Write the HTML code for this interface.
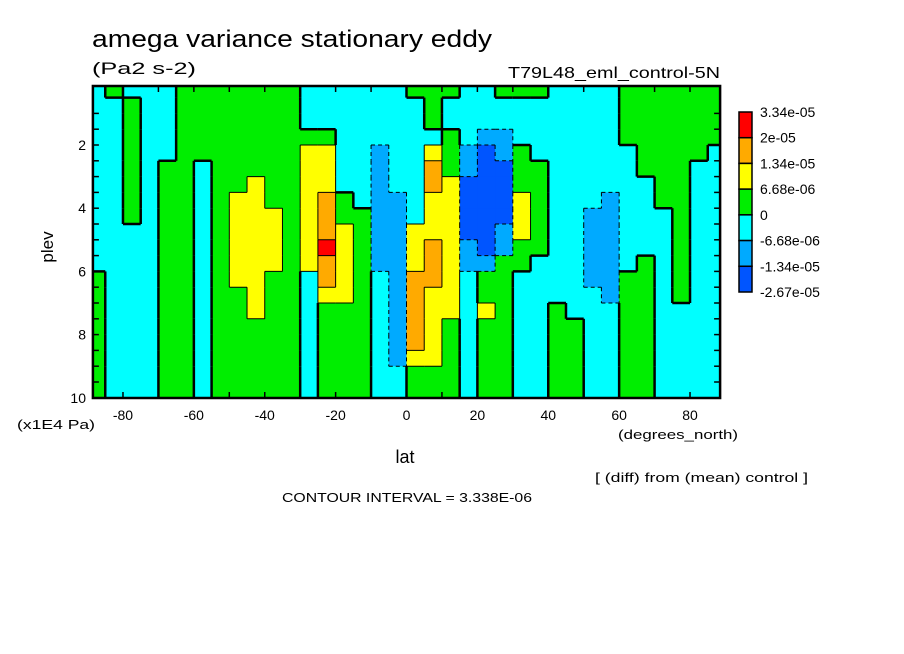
<!DOCTYPE html>
<html><head><meta charset="utf-8"><style>
html,body{margin:0;padding:0;background:#fff;}
svg{display:block;font-family:"Liberation Sans",sans-serif;}
</style></head><body>
<svg id="chart" width="904" height="654" viewBox="0 0 904 654" xmlns="http://www.w3.org/2000/svg">
<rect width="904" height="654" fill="#fff"/>
<g id="cells"></g>
<g id="contours"></g>
<g id="ticks"></g>
<rect x="92.9" y="86" width="627.2" height="312" fill="none" stroke="#000" stroke-width="2.5"/>
<g id="legend"></g>
<text x="92" y="47" font-size="24" textLength="400" lengthAdjust="spacingAndGlyphs">amega variance stationary eddy</text>
<text x="92" y="74" font-size="17" textLength="104" lengthAdjust="spacingAndGlyphs">(Pa2 s-2)</text>
<text x="508" y="78" font-size="16" textLength="212" lengthAdjust="spacingAndGlyphs">T79L48_eml_control-5N</text>
<text transform="translate(53,247) rotate(-90)" text-anchor="middle" font-size="17">plev</text>
<text x="17" y="429" font-size="13" textLength="78" lengthAdjust="spacingAndGlyphs">(x1E4 Pa)</text>
<text x="405" y="463" text-anchor="middle" font-size="18">lat</text>
<text x="618" y="439" font-size="13" textLength="120" lengthAdjust="spacingAndGlyphs">(degrees_north)</text>
<text x="595" y="482" font-size="13" textLength="213" lengthAdjust="spacingAndGlyphs">[ (diff) from (mean) control ]</text>
<text x="282" y="502" font-size="13" textLength="250" lengthAdjust="spacingAndGlyphs">CONTOUR INTERVAL = 3.338E-06</text>
</svg>
<script>
const lats = [-87.5,-82.5,-77.5,-72.5,-67.5,-62.5,-57.5,-52.5,-47.5,-42.5,-37.5,-32.5,-27.5,-22.5,-17.5,-12.5,-7.5,-2.5,2.5,7.5,12.5,17.5,22.5,27.5,32.5,37.5,42.5,47.5,52.5,57.5,62.5,67.5,72.5,77.5,82.5,87.5];
const plevCenters = [0.25,0.75,1.25,1.75,2.25,2.75,3.25,3.75,4.25,4.75,5.25,5.75,6.25,6.75,7.25,7.75,8.25,8.75,9.25,9.75];
// level bin index per column (-3 .. 3), top to bottom
const binColumns = [
[-1,-1,-1,-1,-1,-1,-1,-1,-1,-1,-1,-1,0,0,0,0,0,0,0,0],
[0,-1,-1,-1,-1,-1,-1,-1,-1,-1,-1,-1,-1,-1,-1,-1,-1,-1,-1,-1],
[-1,0,0,0,0,0,0,0,0,-1,-1,-1,-1,-1,-1,-1,-1,-1,-1,-1],
[-1,-1,-1,-1,-1,-1,-1,-1,-1,-1,-1,-1,-1,-1,-1,-1,-1,-1,-1,-1],
[-1,-1,-1,-1,-1,0,0,0,0,0,0,0,0,0,0,0,0,0,0,0],
[0,0,0,0,0,0,0,0,0,0,0,0,0,0,0,0,0,0,0,0],
[0,0,0,0,0,-1,-1,-1,-1,-1,-1,-1,-1,-1,-1,-1,-1,-1,-1,-1],
[0,0,0,0,0,0,0,0,0,0,0,0,0,0,0,0,0,0,0,0],
[0,0,0,0,0,0,0,1,1,1,1,1,1,0,0,0,0,0,0,0],
[0,0,0,0,0,0,1,1,1,1,1,1,1,1,1,0,0,0,0,0],
[0,0,0,0,0,0,0,0,1,1,1,1,0,0,0,0,0,0,0,0],
[0,0,0,0,0,0,0,0,0,0,0,0,0,0,0,0,0,0,0,0],
[-1,-1,-1,0,1,1,1,1,1,1,1,1,-1,-1,-1,-1,-1,-1,-1,-1],
[-1,-1,-1,0,1,1,1,2,2,2,3,2,2,1,0,0,0,0,0,0],
[-1,-1,-1,-1,-1,-1,-1,0,0,1,1,1,1,1,0,0,0,0,0,0],
[-1,-1,-1,-1,-1,-1,-1,-1,0,0,0,0,0,0,0,0,0,0,0,0],
[-1,-1,-1,-1,-2,-2,-2,-2,-2,-2,-2,-2,-1,-1,-1,-1,-1,-1,-1,-1],
[-1,-1,-1,-1,-1,-1,-1,-2,-2,-2,-2,-2,-2,-2,-2,-2,-2,-2,-1,-1],
[0,-1,-1,-1,-1,-1,-1,-1,-1,1,1,1,2,2,2,2,2,1,0,0],
[0,0,0,-1,1,2,2,1,1,1,2,2,2,1,1,1,1,1,0,0],
[0,-1,-1,0,0,0,1,1,1,1,1,1,1,1,1,0,0,0,0,0],
[-1,-1,-1,-1,-2,-2,-3,-3,-3,-3,-2,-2,-1,-1,-1,-1,-1,-1,-1,-1],
[-1,-1,-1,-2,-3,-3,-3,-3,-3,-3,-3,-2,0,0,1,0,0,0,0,0],
[0,-1,-1,-2,-2,-3,-3,-3,-3,-2,-2,0,0,0,0,0,0,0,0,0],
[0,-1,-1,-1,0,0,0,1,1,1,0,0,-1,-1,-1,-1,-1,-1,-1,-1],
[0,-1,-1,-1,-1,0,0,0,0,0,0,-1,-1,-1,-1,-1,-1,-1,-1,-1],
[-1,-1,-1,-1,-1,-1,-1,-1,-1,-1,-1,-1,-1,-1,0,0,0,0,0,0],
[-1,-1,-1,-1,-1,-1,-1,-1,-1,-1,-1,-1,-1,-1,-1,0,0,0,0,0],
[-1,-1,-1,-1,-1,-1,-1,-1,-2,-2,-2,-2,-2,-1,-1,-1,-1,-1,-1,-1],
[-1,-1,-1,-1,-1,-1,-1,-2,-2,-2,-2,-2,-2,-2,-1,-1,-1,-1,-1,-1],
[0,0,0,0,-1,-1,-1,-1,-1,-1,-1,-1,0,0,0,0,0,0,0,0],
[0,0,0,0,0,0,-1,-1,-1,-1,-1,0,0,0,0,0,0,0,0,0],
[0,0,0,0,0,0,0,0,-1,-1,-1,-1,-1,-1,-1,-1,-1,-1,-1,-1],
[0,0,0,0,0,0,0,0,0,0,0,0,0,0,-1,-1,-1,-1,-1,-1],
[0,0,0,0,0,-1,-1,-1,-1,-1,-1,-1,-1,-1,-1,-1,-1,-1,-1,-1],
[0,0,0,0,-1,-1,-1,-1,-1,-1,-1,-1,-1,-1,-1,-1,-1,-1,-1,-1]
];
const legendLabels = ["3.34e-05","2e-05","1.34e-05","6.68e-06","0","-6.68e-06","-1.34e-05","-2.67e-05"];
const xTickLabels = [-80,-60,-40,-20,0,20,40,60,80];
const yTickLabels = [2,4,6,8,10];
const binColors = {"3":"#ff0000","2":"#ffaa00","1":"#ffff00","0":"#00ee00","-1":"#00ffff","-2":"#00aaff","-3":"#0055ff"};

const NS="http://www.w3.org/2000/svg";
const X0=92.9,X1=720.1,Y0=86,Y1=398;
const xScale=lat=>406.5+lat*3.544;
const yScale=p=>145+(p-2)*31.6;
const dLat=5, dP=0.5;
function mk(tag,attrs){const e=document.createElementNS(NS,tag);for(const k in attrs)e.setAttribute(k,attrs[k]);return e;}
const cells=document.getElementById('cells');
lats.forEach((lat,i)=>{
  plevCenters.forEach((p,j)=>{
    const v=binColumns[i][j];
    let xa=Math.max(X0,xScale(lat-dLat/2)), xb=Math.min(X1,xScale(lat+dLat/2));
    let ya=Math.max(Y0,yScale(p-dP/2)), yb=Math.min(Y1,yScale(p+dP/2));
    const r=mk('rect',{x:xa,y:ya,width:xb-xa+0.6,height:yb-ya+0.6,fill:binColors[String(v)]});
    
    
    cells.appendChild(r);
  });
});
// contour boundaries between differing bins
const contours=document.getElementById('contours');
function seg(x1,y1,x2,y2,a,b){
  const lo=Math.min(a,b);
  const zero=(lo===-1&&Math.max(a,b)===0);
  const attrs={x1,y1,x2,y2,stroke:'#000','stroke-width':zero?2.5:1};
  if(!zero&&lo<-1)attrs['stroke-dasharray']='4 3';
  const l=mk('line',attrs);
  
  
  contours.appendChild(l);
}
lats.forEach((lat,i)=>{
  plevCenters.forEach((p,j)=>{
    const v=binColumns[i][j];
    const ya=Math.max(Y0,yScale(p-dP/2)), yb=Math.min(Y1,yScale(p+dP/2));
    const xa=Math.max(X0,xScale(lat-dLat/2)), xb=Math.min(X1,xScale(lat+dLat/2));
    if(i+1<lats.length&&binColumns[i+1][j]!==v) seg(xb,ya,xb,yb,v,binColumns[i+1][j]);
    if(j+1<plevCenters.length&&binColumns[i][j+1]!==v) seg(xa,yb,xb,yb,v,binColumns[i][j+1]);
  });
});
const ticks=document.getElementById('ticks');
for(let lat=-80;lat<=80;lat+=10){
  const x=xScale(lat);
  ticks.appendChild(mk('line',{x1:x,x2:x,y1:Y1,y2:Y1-6,stroke:'#000','stroke-width':1.5}));
  ticks.appendChild(mk('line',{x1:x,x2:x,y1:Y0,y2:Y0+6,stroke:'#000','stroke-width':1.5}));
}
for(let p=1;p<=10;p+=0.5){
  const y=yScale(p);
  ticks.appendChild(mk('line',{x1:X0,x2:X0+6,y1:y,y2:y,stroke:'#000','stroke-width':1.5}));
  ticks.appendChild(mk('line',{x1:X1,x2:X1-6,y1:y,y2:y,stroke:'#000','stroke-width':1.5}));
}
xTickLabels.forEach(v=>{
  const t=mk('text',{x:xScale(v),y:420,'text-anchor':'middle','font-size':14});
  t.textContent=String(v);
  
  
  ticks.appendChild(t);
});
yTickLabels.forEach(v=>{
  const t=mk('text',{x:86,y:yScale(v)+5,'text-anchor':'end','font-size':14});
  t.textContent=String(v);
  
  
  ticks.appendChild(t);
});
const legend=document.getElementById('legend');
const lbins=[3,2,1,0,-1,-2,-3];
const bh=(292-112)/7;
lbins.forEach((b,i)=>{
  const r=mk('rect',{x:739,y:112+i*bh,width:13,height:bh,fill:binColors[String(b)],stroke:'#000','stroke-width':1.5});
  
  
  legend.appendChild(r);
});
legendLabels.forEach((s,i)=>{
  const t=mk('text',{x:760,y:112+i*bh+5,'font-size':14});
  t.textContent=s;
  
  
  legend.appendChild(t);
});
</script>
</body></html>
